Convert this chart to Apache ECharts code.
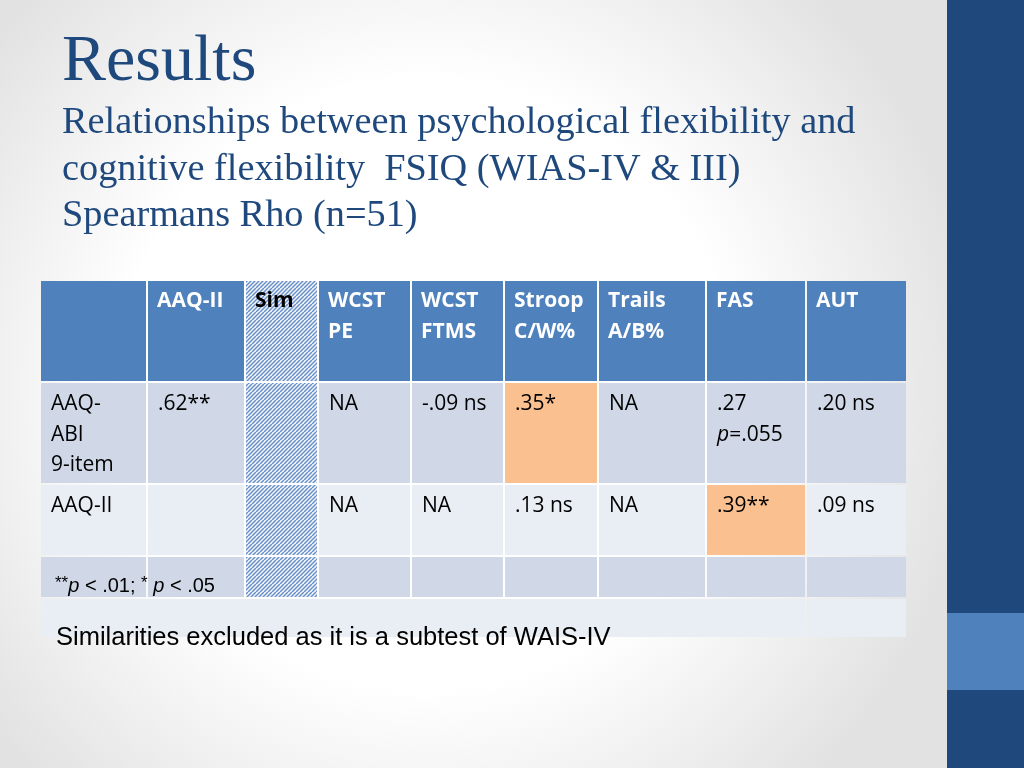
<!DOCTYPE html>
<html><head><meta charset="utf-8">
<script src="https://cdn.jsdelivr.net/npm/echarts@6/dist/echarts.min.js"></script>
<style>html,body{margin:0;padding:0;width:1024px;height:768px;overflow:hidden;background:#fff}#c{width:1024px;height:768px}</style>
</head><body><div id="c"></div><script>
// ---- content ----
const titleText = 'Results';
const subtitleLines = [
  'Relationships between psychological flexibility and',
  'cognitive flexibility  FSIQ (WIAS-IV & III)',
  'Spearmans Rho (n=51)'
];
const columns = ['', 'AAQ-II', 'Sim', 'WCST\nPE', 'WCST\nFTMS', 'Stroop\nC/W%', 'Trails\nA/B%', 'FAS', 'AUT'];
const rowLabels = ['AAQ-\nABI\n9-item', 'AAQ-II'];
const valuesAbi = ['.62**', '', 'NA', '-.09 ns', '.35*', 'NA', '.27\n{i|p}=.055', '.20 ns'];
const valuesAaq = ['', '', 'NA', 'NA', '.13 ns', 'NA', '.39**', '.09 ns'];
const significant = [[0, 'Stroop\nC/W%'], [1, 'FAS']]; // [row, column]
const excludedColumn = 'Sim';
const footnote = '{sup|**}{i|p} < .01; {sup|*} {i|p} < .05';
const note = 'Similarities excluded as it is a subtest of WAIS-IV';

// ---- layout ----
const colWidths = [107, 98, 73, 93, 93, 94, 108, 100, 101];
const rowHeights = [102, 102, 72, 42, 40];
const colEdges = [0]; colWidths.forEach(w => colEdges.push(colEdges[colEdges.length - 1] + w));
const rowEdges = [0]; rowHeights.forEach(h => rowEdges.push(rowEdges[rowEdges.length - 1] + h));

const C = { header: '#4f81bd', dark: '#d0d8e8', light: '#e9edf4', hi: '#fac090', title: '#1f497d' };

// hatch pattern
const pat = document.createElement('canvas');
pat.width = 8; pat.height = 8;
(function () {
  const g = pat.getContext('2d');
  g.fillStyle = '#f4f6fb'; g.fillRect(0, 0, 8, 8);
  g.strokeStyle = '#6890c8'; g.lineWidth = 1.5;
  for (let k = -8; k <= 16; k += 4) { g.beginPath(); g.moveTo(k, 8); g.lineTo(k + 8, 0); g.stroke(); }
})();

const exIdx = columns.indexOf(excludedColumn);
// ---- cells ----
const cells = [];
columns.forEach((t, c) => cells.push({ c0: c, c1: c + 1, r: 0, text: t, kind: c === exIdx ? 'hatch' : 'header' }));
[valuesAbi, valuesAaq].forEach((vals, i) => {
  const r = i + 1;
  const base = r === 1 ? 'dark' : 'light';
  cells.push({ c0: 0, c1: 1, r, text: rowLabels[i], kind: base });
  vals.forEach((v, j) => {
    const c = j + 1;
    let kind = base;
    if (c === exIdx) kind = 'hatch';
    if (significant.some(s => s[0] === i && columns.indexOf(s[1]) === c)) kind = 'hi';
    cells.push({ c0: c, c1: c + 1, r, text: v, kind });
  });
});
columns.forEach((t, c) => cells.push({ c0: c, c1: c + 1, r: 3, text: '', kind: c === exIdx ? 'hatch' : 'dark' }));
cells.push({ c0: 0, c1: 8, r: 4, text: '', kind: 'light' });
cells.push({ c0: 8, c1: 9, r: 4, text: '', kind: 'light' });

const chart = echarts.init(document.getElementById('c'), null, { renderer: 'canvas' });
const tableW = colEdges[colEdges.length - 1], tableH = rowEdges[rowEdges.length - 1];

chart.setOption({
  animation: false,
  grid: { left: 40, top: 280, width: tableW, height: tableH },
  xAxis: { type: 'value', min: 0, max: tableW, show: false },
  yAxis: { type: 'value', min: 0, max: tableH, inverse: true, show: false },
  graphic: [
    { type: 'rect', z: -10, silent: true, shape: { x: 0, y: 0, width: 947, height: 768 },
      style: { fill: new echarts.graphic.RadialGradient(0.45, 0.5, 0.72, [
        { offset: 0, color: '#ffffff' }, { offset: 0.55, color: '#ffffff' }, { offset: 1, color: '#e2e2e2' }]) } },
    { type: 'rect', z: -5, shape: { x: 947, y: 0, width: 77, height: 768 }, style: { fill: '#1f497d' } },
    { type: 'rect', z: -4, shape: { x: 947, y: 613, width: 77, height: 77 }, style: { fill: '#4f81bd' } },
    { type: 'text', left: 62, top: 30, style: { text: titleText, fill: C.title, font: '66px "Liberation Serif"' } },
    { type: 'group', left: 62, top: 104, children: subtitleLines.map((t, i) => ({
      type: 'text', x: 0, y: i * 46.5, style: { text: t, fill: C.title, font: '38.3px "Liberation Serif"' } })) },
    { type: 'text', left: 55, top: 575, z: 100, style: { text: footnote, fill: '#000', fontFamily: 'Liberation Sans', fontSize: 20,
      rich: { sup: { fontSize: 17, fontFamily: 'Liberation Sans', verticalAlign: 'top', lineHeight: 22 },
              i: { fontStyle: 'italic', fontSize: 20, fontFamily: 'Liberation Sans', lineHeight: 22 } } } },
    { type: 'text', left: 56, top: 625, z: 100, style: { text: note, fill: '#000', fontFamily: 'Liberation Sans', fontSize: 25.5 } }
  ],
  series: [{
    type: 'custom',
    coordinateSystem: 'cartesian2d',
    data: cells.map(d => [d.c0, d.c1, d.r]),
    renderItem: function (params, api) {
      const d = cells[params.dataIndex];
      const p0 = api.coord([colEdges[d.c0], rowEdges[d.r]]);
      const p1 = api.coord([colEdges[d.c1], rowEdges[d.r + 1]]);
      const fill = d.kind === 'hatch' ? { image: pat, repeat: 'repeat' } : C[d.kind];
      const isHead = d.r === 0;
      const children = [{ type: 'rect', shape: { x: p0[0] + 1, y: p0[1] + 1, width: p1[0] - p0[0] - 2, height: p1[1] - p0[1] - 2 }, style: { fill } }];
      if (d.text) {
        children.push({ type: 'text', style: {
          text: d.text, x: p0[0] + (isHead ? 10 : 11), y: p0[1] + (isHead ? 6 : 7), align: 'left', verticalAlign: 'top',
          fill: isHead ? (d.kind === 'hatch' ? '#000' : '#fff') : '#000',
          fontFamily: 'Open Sans', fontSize: 21, fontWeight: isHead ? 'bold' : 'normal', lineHeight: 30.5,
          rich: { i: { fontStyle: 'italic', fontFamily: 'Open Sans', fontSize: 21, lineHeight: 30.5 } }
        } });
      }
      return { type: 'group', children };
    }
  }]
});
</script></body></html>
